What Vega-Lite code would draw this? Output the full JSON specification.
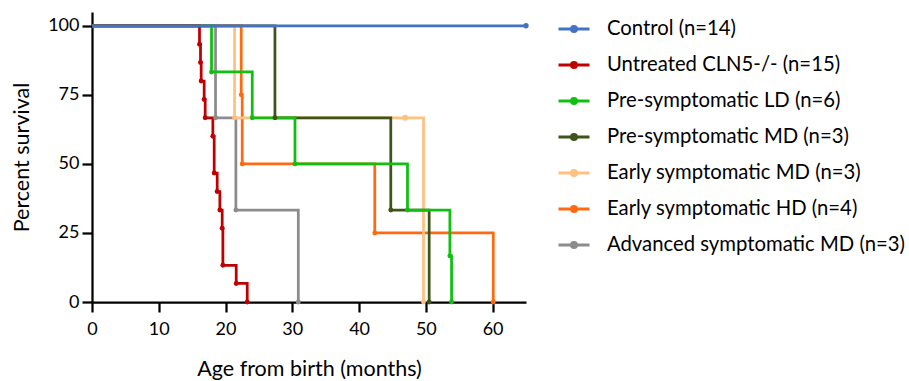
{
  "$schema": "https://vega.github.io/schema/vega-lite/v6.json",
  "autosize": {"type": "none"},
  "padding": {"left": 92, "top": 12, "right": 383, "bottom": 79},
  "width": 434,
  "height": 290,
  "config": {
    "font": "Lato",
    "view": {"stroke": null},
    "axis": {
      "grid": false,
      "domainColor": "black",
      "domainWidth": 2.25,
      "tickColor": "black",
      "tickWidth": 2.25,
      "tickSize": 10,
      "labelFont": "Lato",
      "labelFontSize": 18,
      "labelColor": "black",
      "labelFlush": false,
      "titleFont": "Lato",
      "titleFontSize": 21.5,
      "titleFontWeight": "normal",
      "titleColor": "black"
    },
    "legend": {
      "labelFont": "Lato",
      "labelFontSize": 20.3,
      "labelColor": "black",
      "labelLimit": 500
    }
  },
  "data": {
    "values": [
      {"series": "Advanced symptomatic MD (n=3)", "t": 0, "s": 100, "kind": "start"},
      {"series": "Advanced symptomatic MD (n=3)", "t": 18.5, "s": 66.7, "kind": "death"},
      {"series": "Advanced symptomatic MD (n=3)", "t": 21.55, "s": 33.3, "kind": "death"},
      {"series": "Advanced symptomatic MD (n=3)", "t": 30.9, "s": 0, "kind": "death"},
      {"series": "Early symptomatic HD (n=4)", "t": 0, "s": 100, "kind": "start"},
      {"series": "Early symptomatic HD (n=4)", "t": 22.35, "s": 75, "kind": "death"},
      {"series": "Early symptomatic HD (n=4)", "t": 22.5, "s": 50, "kind": "death"},
      {"series": "Early symptomatic HD (n=4)", "t": 42.35, "s": 25, "kind": "death"},
      {"series": "Early symptomatic HD (n=4)", "t": 60.1, "s": 0, "kind": "death"},
      {"series": "Early symptomatic MD (n=3)", "t": 0, "s": 100, "kind": "start"},
      {"series": "Early symptomatic MD (n=3)", "t": 21.35, "s": 66.7, "kind": "death"},
      {"series": "Early symptomatic MD (n=3)", "t": 46.9, "s": 66.7, "kind": "censored"},
      {"series": "Early symptomatic MD (n=3)", "t": 49.65, "s": 0, "kind": "death"},
      {"series": "Pre-symptomatic MD (n=3)", "t": 0, "s": 100, "kind": "start"},
      {"series": "Pre-symptomatic MD (n=3)", "t": 27.4, "s": 66.7, "kind": "death"},
      {"series": "Pre-symptomatic MD (n=3)", "t": 44.75, "s": 33.3, "kind": "death"},
      {"series": "Pre-symptomatic MD (n=3)", "t": 50.5, "s": 0, "kind": "death"},
      {"series": "Pre-symptomatic LD (n=6)", "t": 0, "s": 100, "kind": "start"},
      {"series": "Pre-symptomatic LD (n=6)", "t": 17.9, "s": 83.3, "kind": "death"},
      {"series": "Pre-symptomatic LD (n=6)", "t": 24.0, "s": 66.7, "kind": "death"},
      {"series": "Pre-symptomatic LD (n=6)", "t": 30.4, "s": 50, "kind": "death"},
      {"series": "Pre-symptomatic LD (n=6)", "t": 47.25, "s": 33.3, "kind": "death"},
      {"series": "Pre-symptomatic LD (n=6)", "t": 53.6, "s": 16.7, "kind": "death"},
      {"series": "Pre-symptomatic LD (n=6)", "t": 53.85, "s": 0, "kind": "death"},
      {"series": "Untreated CLN5-/- (n=15)", "t": 0, "s": 100, "kind": "start"},
      {"series": "Untreated CLN5-/- (n=15)", "t": 16.1, "s": 93.3, "kind": "death"},
      {"series": "Untreated CLN5-/- (n=15)", "t": 16.25, "s": 86.7, "kind": "death"},
      {"series": "Untreated CLN5-/- (n=15)", "t": 16.35, "s": 80, "kind": "death"},
      {"series": "Untreated CLN5-/- (n=15)", "t": 16.8, "s": 73.3, "kind": "death"},
      {"series": "Untreated CLN5-/- (n=15)", "t": 16.95, "s": 66.7, "kind": "death"},
      {"series": "Untreated CLN5-/- (n=15)", "t": 18.1, "s": 60, "kind": "death"},
      {"series": "Untreated CLN5-/- (n=15)", "t": 18.3, "s": 46.7, "kind": "death"},
      {"series": "Untreated CLN5-/- (n=15)", "t": 18.75, "s": 40, "kind": "death"},
      {"series": "Untreated CLN5-/- (n=15)", "t": 19.15, "s": 33.3, "kind": "death"},
      {"series": "Untreated CLN5-/- (n=15)", "t": 19.5, "s": 26.7, "kind": "death"},
      {"series": "Untreated CLN5-/- (n=15)", "t": 19.6, "s": 13.3, "kind": "death"},
      {"series": "Untreated CLN5-/- (n=15)", "t": 21.6, "s": 6.7, "kind": "death"},
      {"series": "Untreated CLN5-/- (n=15)", "t": 23.25, "s": 0, "kind": "death"},
      {"series": "Control (n=14)", "t": 0, "s": 100, "kind": "start"},
      {"series": "Control (n=14)", "t": 65, "s": 100, "kind": "end"}
    ]
  },
  "encoding": {
    "x": {
      "field": "t",
      "type": "quantitative",
      "scale": {"domain": [0, 65], "nice": false, "zero": true},
      "axis": {"values": [0, 10, 20, 30, 40, 50, 60], "title": "Age from birth (months)", "labelPadding": 8, "titlePadding": 20}
    },
    "y": {
      "field": "s",
      "type": "quantitative",
      "scale": {"domain": [0, 105], "nice": false},
      "axis": {"values": [0, 25, 50, 75, 100], "title": "Percent survival", "labelPadding": 3, "titlePadding": 14}
    },
    "color": {
      "field": "series",
      "type": "nominal",
      "scale": {
        "domain": ["Control (n=14)", "Untreated CLN5-/- (n=15)", "Pre-symptomatic LD (n=6)", "Pre-symptomatic MD (n=3)", "Early symptomatic MD (n=3)", "Early symptomatic HD (n=4)", "Advanced symptomatic MD (n=3)"],
        "range": ["#4472C4", "#C00000", "#10C010", "#3F5418", "#FFC080", "#FF6A10", "#8C8C8C"]
      },
      "legend": {
        "title": null,
        "orient": "right",
        "offset": 25,
        "padding": 0,
        "symbolType": "M-1,0L1,0M-0.16,0A0.16,0.16 0 1,0 0.16,0A0.16,0.16 0 1,0 -0.16,0Z",
        "symbolSize": 961,
        "symbolStrokeWidth": 3,
        "symbolOpacity": 1,
        "labelOffset": 16,
        "rowPadding": 8,
        "encode": {
          "symbols": {
            "update": {
              "fill": {"scale": "color", "field": "value"},
              "stroke": {"scale": "color", "field": "value"}
            }
          }
        }
      }
    }
  },
  "layer": [
    {
      "mark": {"type": "line", "interpolate": "step-after", "strokeWidth": 2.75}
    },
    {
      "transform": [{"filter": "datum.kind !== 'start'"}],
      "mark": {"type": "point", "filled": true, "opacity": 1},
      "encoding": {
        "size": {
          "field": "kind",
          "type": "nominal",
          "scale": {"domain": ["death", "end", "censored"], "range": [24, 34, 60]},
          "legend": null
        }
      }
    }
  ]
}
